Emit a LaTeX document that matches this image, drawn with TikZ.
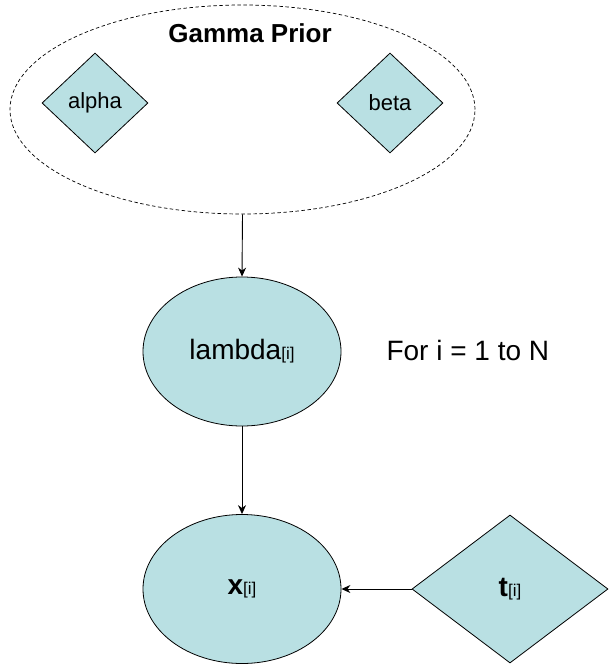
\documentclass[tikz,border=0pt]{standalone}
\usepackage{fontspec}
\setmainfont{Liberation Sans}
\usetikzlibrary{shapes.geometric,arrows.meta}
\definecolor{nodefill}{RGB}{185,224,227}
\tikzset{
  base/.style={draw=black, line width=0.8pt, fill=nodefill, inner sep=0pt},
  ellnode/.style={base, ellipse, minimum width=198pt, minimum height=149pt},
  smalldia/.style={base, diamond, minimum width=106pt, minimum height=100pt},
  bigdia/.style={base, diamond, minimum width=196pt, minimum height=148pt},
  plate/.style={draw=black, line width=0.7pt, dash pattern=on 3.5pt off 2.5pt, ellipse, minimum width=465pt, minimum height=209pt, inner sep=0pt},
  conn/.style={draw=black, line width=0.9pt, -{Stealth[length=9pt,width=8pt]}},
}
\newcommand{\idx}{{\fontsize{17pt}{17pt}\selectfont[i]}}
\begin{document}
\begin{tikzpicture}[x=1pt,y=-1pt]
\useasboundingbox (0,0) rectangle (613,666);
\node[plate] (prior) at (242.5,109.5) {};
\node[font=\fontsize{26pt}{26pt}\selectfont\bfseries] (ptitle) at (250,33) {Gamma Prior};
\node[smalldia, font=\fontsize{22pt}{22pt}\selectfont] (alpha) at (95,103) {alpha};
\node[smalldia, font=\fontsize{22pt}{22pt}\selectfont] (beta) at (390,103) {beta};
\node[ellnode, font=\fontsize{28pt}{28pt}\selectfont] (lambda) at (242,351.5) {lambda\idx};
\node[font=\fontsize{28pt}{28pt}\selectfont, anchor=west] (fortext) at (383,350) {For i = 1 to N};
\node[ellnode, font=\fontsize{28pt}{28pt}\selectfont] (x) at (242,589) {\textbf{x}\idx};
\node[bigdia, font=\fontsize{28pt}{28pt}\selectfont] (t) at (510,589) {\textbf{t}\idx};
\draw[conn] (prior.south) -- (lambda.north);
\draw[conn] (lambda.south) -- (x.north);
\draw[conn] (t.west) -- (x.east);
\end{tikzpicture}
\end{document}
